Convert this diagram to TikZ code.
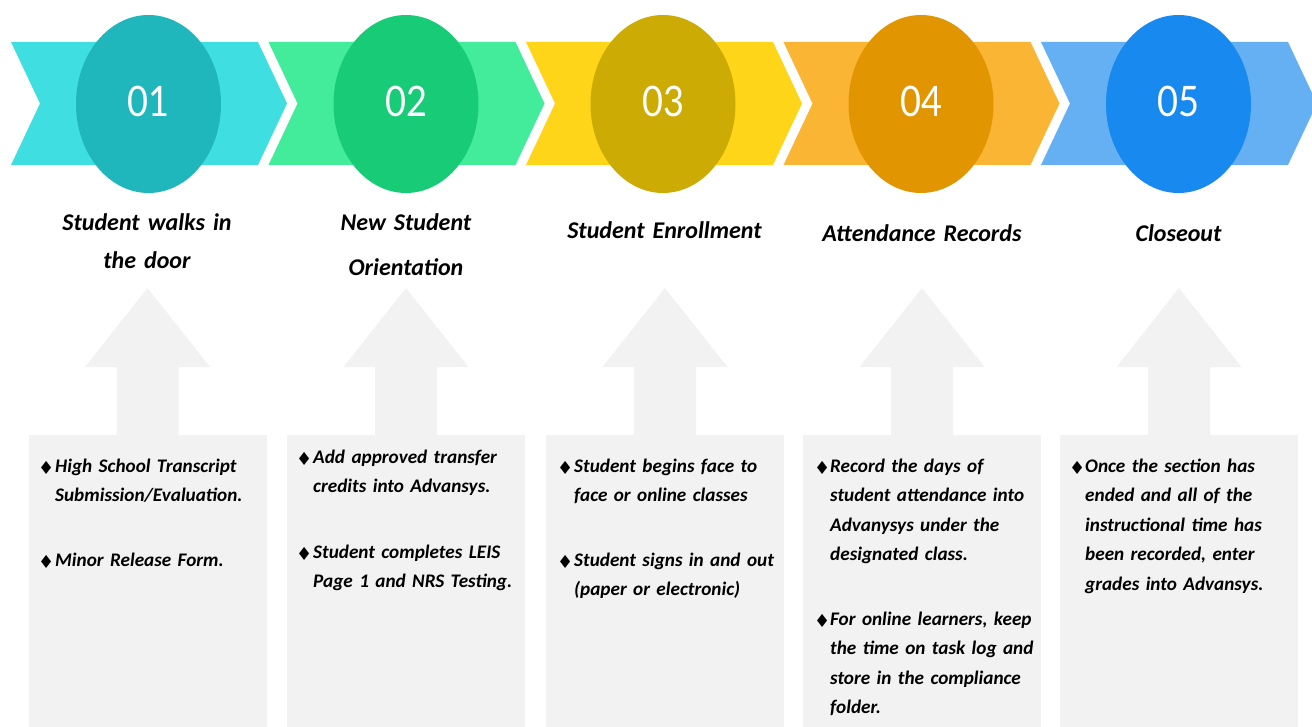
\documentclass[tikz,border=0pt]{standalone}
\usepackage{fontspec}
\setmainfont{Carlito}
\newfontfamily\numfont{Lato}
\newfontfamily\symfont{DejaVu Sans}
\usetikzlibrary{shapes.geometric}

\definecolor{bandA}{HTML}{3FDEE1}
\definecolor{bandB}{HTML}{42EC9A}
\definecolor{bandC}{HTML}{FED518}
\definecolor{bandD}{HTML}{FBB535}
\definecolor{bandE}{HTML}{65B0F3}
\definecolor{circA}{HTML}{1FB7BC}
\definecolor{circB}{HTML}{18CB76}
\definecolor{circC}{HTML}{CBAB04}
\definecolor{circD}{HTML}{E09501}
\definecolor{circE}{HTML}{1789EF}
\definecolor{panel}{HTML}{F2F2F2}

% fixed-height strut so a node's top sits 20pt above its first baseline
\newcommand\tstrut{\rule{0pt}{20pt}}
% slightly condensed step numbers
\newcommand\stepdigits[1]{\scalebox{0.86}[1]{#1}}

\tikzset{
  stepcirc/.style={ellipse, minimum width=145pt, minimum height=178pt, inner sep=0pt},
  stepnum/.style={text=white, inner sep=0pt, font=\numfont\fontsize{42}{42}\selectfont},
  steptitle/.style={anchor=north, inner sep=0pt, text width=250pt, align=center,
    font=\bfseries\itshape\fontsize{24}{38}\selectfont},
  panelbox/.style={fill=panel, minimum width=238pt, minimum height=300pt, inner sep=0pt, anchor=north},
  bodytext/.style={anchor=north west, inner sep=0pt, text width=230pt, align=left,
    font=\bfseries\itshape\fontsize{19.2}{29.5}\selectfont},
  bulletmark/.style={anchor=base west, inner sep=0pt, yshift=-3pt, font=\symfont\fontsize{18}{18}\selectfont}
}

\begin{document}
\begin{tikzpicture}[x=1pt,y=-1pt]
\useasboundingbox (0,0) rectangle (1312,727);
\clip (0,0) rectangle (1312,727);

% chevron band
\foreach \i/\bc in {0/bandA,1/bandB,2/bandC,3/bandD,4/bandE}{
  \pgfmathsetmacro\L{11+257.5*\i}
  \fill[\bc] (\L,42) -- ++(247,0) -- ++(29,61.5) -- ++(-29,61.5) -- ++(-247,0) -- ++(29,-61.5) -- cycle;
}

% numbered ovals
\node[stepcirc, fill=circA] (c1) at (148.5,104) {};
\node[stepcirc, fill=circB] (c2) at (406,104) {};
\node[stepcirc, fill=circC] (c3) at (663,104) {};
\node[stepcirc, fill=circD] (c4) at (921,104) {};
\node[stepcirc, fill=circE] (c5) at (1178.5,104) {};
\node[stepnum] (n1) at (148.5,101) {\stepdigits{01}};
\node[stepnum] (n2) at (406,101) {\stepdigits{02}};
\node[stepnum] (n3) at (663,101) {\stepdigits{03}};
\node[stepnum] (n4) at (921,101) {\stepdigits{04}};
\node[stepnum] (n5) at (1178.5,101) {\stepdigits{05}};

% step titles
\node[steptitle] (t1) at (147,210) {\tstrut Student walks in\\the door};
\node[steptitle, font=\bfseries\itshape\fontsize{24}{45}\selectfont] (t2) at (406,210) {\tstrut New Student\\Orientation};
\node[steptitle] (t3) at (664.5,218) {\tstrut Student Enrollment};
\node[steptitle] (t4) at (922,221) {\tstrut Attendance Records};
\node[steptitle] (t5) at (1178.5,221) {\tstrut Closeout};

% grey up-arrows with their panels
\foreach \cx [count=\k] in {147.5,406,665,922,1179}{
  \fill[panel] (\cx,288) -- (\cx+62.5,367) -- (\cx+31,367) -- (\cx+31,436)
     -- (\cx-31,436) -- (\cx-31,367) -- (\cx-62.5,367) -- cycle;
  \node[panelbox] (b\k) at (\cx,435) {};
}

% panel 1
\node[bulletmark] (d1a) at (38,471) {♦};
\node[bodytext] (p1a) at (55,452) {\tstrut High School Transcript\\Submission/Evaluation.};
\node[bulletmark] (d1b) at (38,565) {♦};
\node[bodytext] (p1b) at (55,546) {\tstrut Minor Release Form.};

% panel 2
\node[bulletmark] (d2a) at (296,462) {♦};
\node[bodytext] (p2a) at (313,443) {\tstrut Add approved transfer\\credits into Advansys.};
\node[bulletmark] (d2b) at (296,557) {♦};
\node[bodytext] (p2b) at (313,538) {\tstrut Student completes LEIS\\Page 1 and NRS Testing.};

% panel 3
\node[bulletmark] (d3a) at (557,471) {♦};
\node[bodytext] (p3a) at (574,452) {\tstrut Student begins face to\\face or online classes};
\node[bulletmark] (d3b) at (557,565) {♦};
\node[bodytext] (p3b) at (574,546) {\tstrut Student signs in and out\\(paper or electronic)};

% panel 4
\node[bulletmark] (d4a) at (814,471) {♦};
\node[bodytext] (p4a) at (830,452) {\tstrut Record the days of\\student attendance into\\Advanysys under the\\designated class.};
\node[bulletmark] (d4b) at (814,624) {♦};
\node[bodytext] (p4b) at (830,605) {\tstrut For online learners, keep\\the time on task log and\\store in the compliance\\folder.};

% panel 5
\node[bulletmark] (d5a) at (1069,471) {♦};
\node[bodytext] (p5a) at (1085,452) {\tstrut Once the section has\\ended and all of the\\instructional time has\\been recorded, enter\\grades into Advansys.};
\end{tikzpicture}
\end{document}
